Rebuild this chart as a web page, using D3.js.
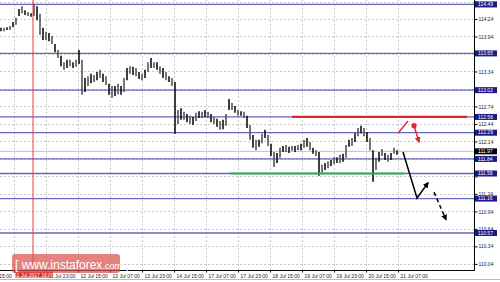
<!DOCTYPE html>
<html>
<head>
<meta charset="utf-8">
<script src="https://cdn.jsdelivr.net/npm/d3@7"></script>
<style>
  body { margin: 0; background: #fff; }
  svg { display: block; font-family: "Liberation Sans", Arial, sans-serif; }
</style>
</head>
<body>
<svg class="chart" width="500" height="282"></svg>
<script>
// USD/JPY H1 - levels and forecast arrows

// right axis price ticks
var priceTicks = [110.04, 110.34, 110.64, 110.94, 111.24, 111.54, 111.84, 112.14, 112.44, 112.74, 113.04, 113.34, 113.64, 113.94, 114.24, 114.54];
// horizontal levels (blue lines + navy labels)
var levelPrices = [114.49, 113.65, 113.02, 112.56, 112.29, 111.84, 111.59, 111.16, 110.57];
var currentPrice = 111.97;

// bottom axis, hours from first bar
var timeTickHours = [-9, 7, 23, 39, 55, 71, 87, 103, 119, 135, 151, 167, 183, 199];
var timeTickLabels = ["10 Jul 15:00", "11 Jul 07:00", "11 Jul 23:00", "12 Jul 15:00", "13 Jul 07:00", "13 Jul 23:00", "14 Jul 15:00",
    "17 Jul 07:00", "17 Jul 23:00", "18 Jul 15:00", "19 Jul 07:00", "19 Jul 23:00", "20 Jul 15:00", "21 Jul 07:00"];
var markerHour = 16.5, markerLabel = "11 Jul 2017 16:00";

// price bars (sampled every 1.5h), high / low
var barHigh = [114.09, 114.09, 114.10, 114.12, 114.19, 114.26, 114.41, 114.46, 114.39, 114.36, 114.34, 114.50, 114.46, 114.33, 114.09, 114.02, 114.00, 113.95, 113.81, 113.71,
    113.61, 113.50, 113.54, 113.54, 113.50, 113.54, 113.71, 113.54, 113.23, 113.26, 113.30, 113.28, 113.33, 113.37, 113.30, 113.26, 113.13, 113.09, 113.09, 113.13,
    113.09, 113.23, 113.40, 113.43, 113.42, 113.40, 113.33, 113.30, 113.37, 113.50, 113.57, 113.50, 113.50, 113.43, 113.40, 113.33, 113.26, 113.23, 113.16, 112.68,
    112.71, 112.65, 112.61, 112.58, 112.56, 112.63, 112.66, 112.65, 112.68, 112.65, 112.61, 112.56, 112.53, 112.49, 112.51, 112.61, 112.87, 112.80, 112.75, 112.68,
    112.66, 112.65, 112.58, 112.42, 112.25, 112.17, 112.17, 112.27, 112.34, 112.25, 112.10, 111.96, 111.94, 112.03, 112.06, 112.08, 112.05, 112.06, 112.06, 112.08,
    112.10, 112.17, 112.20, 112.13, 112.03, 111.99, 111.96, 111.74, 111.77, 111.80, 111.82, 111.87, 111.87, 111.91, 111.93, 112.08, 112.17, 112.20, 112.28, 112.37,
    112.41, 112.37, 112.30, 112.20, 111.99, 111.86, 111.96, 112.01, 111.94, 111.91, 111.94, 112.03, 111.99];
var barLow = [114.03, 114.03, 114.05, 114.05, 114.10, 114.14, 114.29, 114.34, 114.31, 114.29, 114.28, 114.29, 114.22, 113.97, 113.88, 113.88, 113.86, 113.81, 113.67, 113.57,
    113.43, 113.37, 113.40, 113.43, 113.40, 113.42, 113.47, 112.94, 112.99, 113.09, 113.14, 113.16, 113.19, 113.23, 113.16, 113.11, 112.94, 112.89, 112.92, 112.95,
    112.94, 112.99, 113.19, 113.30, 113.28, 113.26, 113.21, 113.19, 113.23, 113.33, 113.40, 113.40, 113.37, 113.30, 113.23, 113.19, 113.16, 113.09, 112.27, 112.44,
    112.51, 112.51, 112.47, 112.44, 112.42, 112.49, 112.54, 112.54, 112.56, 112.54, 112.47, 112.44, 112.39, 112.34, 112.35, 112.41, 112.68, 112.68, 112.63, 112.58,
    112.58, 112.54, 112.37, 112.17, 112.03, 111.99, 112.05, 112.11, 112.20, 112.06, 111.89, 111.70, 111.77, 111.86, 111.96, 111.96, 111.94, 111.98, 111.96, 111.99,
    111.99, 112.03, 112.05, 111.99, 111.93, 111.89, 111.55, 111.58, 111.65, 111.68, 111.72, 111.75, 111.77, 111.77, 111.79, 111.86, 112.05, 112.06, 112.13, 112.23,
    112.28, 112.23, 112.13, 111.99, 111.45, 111.65, 111.79, 111.89, 111.82, 111.79, 111.82, 111.93, 111.91];

// drawn support / resistance segments [startHour, endHour, price]
var support = [115, 202, 111.59];
var resistance = [146, 233.5, 112.56];

// forecast arrows: points as [hour, price]
var redLine = [[199, 112.28], [204, 112.49]];
var redDot = [207, 112.41];
var redArrow = [[207, 112.41], [209.5, 112.13]];
var blackArrow = [[201.5, 111.96], [208.5, 111.17], [214, 111.43]];
var blackDashed = [[217, 111.27], [223, 110.80]];

var svg = d3.select("svg.chart"),
    plotW = 474,
    plotH = 270;

var x = d3.scaleLinear().domain([0, 199]).range([0, 398]);
var y = d3.scaleLinear().domain([109.935, 114.566]).range([plotH, 0]);

var defs = svg.append("defs");
defs.append("clipPath").attr("id", "plotClip")
    .append("rect").attr("width", plotW).attr("height", plotH);

function addHead(id, color) {
    defs.append("marker")
        .attr("id", id)
        .attr("viewBox", "0 0 10 10")
        .attr("refX", 8).attr("refY", 5)
        .attr("markerWidth", 6).attr("markerHeight", 6)
        .attr("markerUnits", "userSpaceOnUse")
        .attr("orient", "auto")
        .append("path")
        .attr("d", "M0,0 L10,5 L0,10 z")
        .attr("fill", color);
}
addHead("headRed", "#e0282c");
addHead("headBlack", "#000");

svg.append("rect").attr("width", 500).attr("height", 282).attr("fill", "#fff");

var plot = svg.append("g").attr("clip-path", "url(#plotClip)");

// dashed grid
plot.selectAll("line.hgrid")
    .data(priceTicks)
    .enter().append("line")
    .attr("x1", 0).attr("x2", plotW)
    .attr("y1", function(d) { return Math.round(y(d)) + 0.5; })
    .attr("y2", function(d) { return Math.round(y(d)) + 0.5; })
    .attr("stroke", "#c8c8c8")
    .attr("stroke-dasharray", "2,2");

plot.selectAll("line.vgrid")
    .data(timeTickHours)
    .enter().append("line")
    .attr("x1", function(d) { return Math.round(x(d)) + 0.5; })
    .attr("x2", function(d) { return Math.round(x(d)) + 0.5; })
    .attr("y1", 0).attr("y2", plotH)
    .attr("stroke", "#c8c8c8")
    .attr("stroke-dasharray", "2,2");

// level lines
plot.selectAll("line.level")
    .data(levelPrices)
    .enter().append("line")
    .attr("x1", 0).attr("x2", plotW)
    .attr("y1", function(d) { return y(d); })
    .attr("y2", function(d) { return y(d); })
    .attr("stroke", "#6565bd")
    .attr("stroke-width", 1.3);

// current price line
plot.append("line")
    .attr("x1", 0).attr("x2", plotW)
    .attr("y1", y(currentPrice)).attr("y2", y(currentPrice))
    .attr("stroke", "#c0c0c0");

// red marker line (period)
plot.append("line")
    .attr("x1", x(markerHour)).attr("x2", x(markerHour))
    .attr("y1", 0).attr("y2", plotH)
    .attr("stroke", "#e04040");

// price bars
plot.selectAll("line.bar")
    .data(barHigh)
    .enter().append("line")
    .attr("x1", function(d, i) { return x(0.5 + i * 1.5); })
    .attr("x2", function(d, i) { return x(0.5 + i * 1.5); })
    .attr("y1", function(d) { return y(d); })
    .attr("y2", function(d, i) { return y(barLow[i]); })
    .attr("stroke", function(d, i) { return i % 2 ? "#555" : "#111"; })
    .attr("stroke-width", 1.6);

// support / resistance
plot.append("line")
    .attr("x1", x(support[0])).attr("x2", x(support[1]))
    .attr("y1", y(support[2])).attr("y2", y(support[2]))
    .attr("stroke", "#2fb34a").attr("stroke-width", 2.2);
plot.append("line")
    .attr("x1", x(resistance[0])).attr("x2", x(resistance[1]))
    .attr("y1", y(resistance[2])).attr("y2", y(resistance[2]))
    .attr("stroke", "#d8262c").attr("stroke-width", 2.2);

// forecast arrows
var line = d3.line()
    .x(function(d) { return x(d[0]); })
    .y(function(d) { return y(d[1]); });

plot.append("path").attr("d", line(redLine))
    .attr("fill", "none").attr("stroke", "#e0282c").attr("stroke-width", 1.5);
plot.append("path").attr("d", line(redArrow))
    .attr("fill", "none").attr("stroke", "#e0282c").attr("stroke-width", 1.5)
    .attr("marker-end", "url(#headRed)");
plot.append("circle")
    .attr("cx", x(redDot[0])).attr("cy", y(redDot[1])).attr("r", 2.6)
    .attr("fill", "#e0282c");
plot.append("path").attr("d", line(blackArrow))
    .attr("fill", "none").attr("stroke", "#000").attr("stroke-width", 1.5)
    .attr("marker-end", "url(#headBlack)");
plot.append("path").attr("d", line(blackDashed))
    .attr("fill", "none").attr("stroke", "#000").attr("stroke-width", 1.5)
    .attr("stroke-dasharray", "4,3")
    .attr("marker-end", "url(#headBlack)");

// frame
svg.append("line").attr("x1", plotW + 0.5).attr("x2", plotW + 0.5).attr("y1", 0).attr("y2", plotH + 0.5)
    .attr("stroke", "#000");
svg.append("line").attr("x1", 0).attr("x2", plotW + 0.5).attr("y1", plotH + 0.5).attr("y2", plotH + 0.5)
    .attr("stroke", "#000");

// highlighted labels
var tags = levelPrices.map(function(p) { return { v: p, bg: "#1a1a88" }; });
tags.push({ v: currentPrice, bg: "#000" });

// right axis (labels hidden under a tag are left out)
function coveredByTag(p) {
    return tags.some(function(t) { return Math.abs(y(t.v) - y(p)) < 3; });
}
var yAxis = d3.axisRight(y)
    .tickValues(priceTicks)
    .tickSize(3)
    .tickFormat(function(d) { return coveredByTag(d) ? "" : d.toFixed(2); });
var gy = svg.append("g")
    .attr("transform", "translate(" + (plotW + 0.5) + ",0)")
    .call(yAxis);
gy.select(".domain").remove();
gy.selectAll("text").attr("font-size", "5px").attr("fill", "#222").attr("x", 4);

var tag = svg.selectAll("g.tag")
    .data(tags)
    .enter().append("g")
    .attr("transform", function(d) { return "translate(" + (plotW + 1) + "," + y(d.v) + ")"; });
tag.append("rect")
    .attr("x", 0).attr("y", -3)
    .attr("width", 22).attr("height", 6)
    .attr("fill", function(d) { return d.bg; });
tag.append("text")
    .attr("x", 3).attr("dy", "0.35em")
    .attr("font-size", "5px")
    .attr("fill", "#fff")
    .text(function(d) { return d.v.toFixed(2); });

// bottom axis (label fully under the marker box left out)
var xAxis = d3.axisBottom(x)
    .tickValues(timeTickHours)
    .tickSize(2)
    .tickFormat(function(d, i) { return (d < markerHour && d > markerHour - 16) ? "" : timeTickLabels[i]; });
var gx = svg.append("g")
    .attr("transform", "translate(0," + (plotH + 0.5) + ")")
    .call(xAxis);
gx.select(".domain").remove();
gx.selectAll("text")
    .attr("font-size", "5px")
    .attr("fill", "#222")
    .attr("text-anchor", "start")
    .attr("dx", 2)
    .attr("y", 4);

// marker time label
svg.append("rect")
    .attr("x", x(markerHour) - 18).attr("y", plotH + 1.5)
    .attr("width", 38).attr("height", 6)
    .attr("fill", "#e02828");
svg.append("text")
    .attr("x", x(markerHour) + 1).attr("y", plotH + 6.5)
    .attr("text-anchor", "middle")
    .attr("font-size", "5px").attr("fill", "#fff")
    .text(markerLabel);

svg.append("line").attr("x1", 0).attr("x2", 500).attr("y1", 279.5).attr("y2", 279.5)
    .attr("stroke", "#bbb");

// watermark
var wm = svg.append("g").attr("transform", "translate(12,254)");
wm.append("rect")
    .attr("width", 108).attr("height", 19).attr("rx", 3)
    .attr("fill", "#dd5050").attr("opacity", 0.72);
var wt = wm.append("text")
    .attr("x", 3).attr("y", 15)
    .attr("fill", "#fff")
    .attr("font-size", "12px");
wt.append("tspan").text("[ www.instaforex");
wt.append("tspan").attr("font-size", "9px").text(".com");
wt.append("tspan").text(" ]");
</script>
</body>
</html>
